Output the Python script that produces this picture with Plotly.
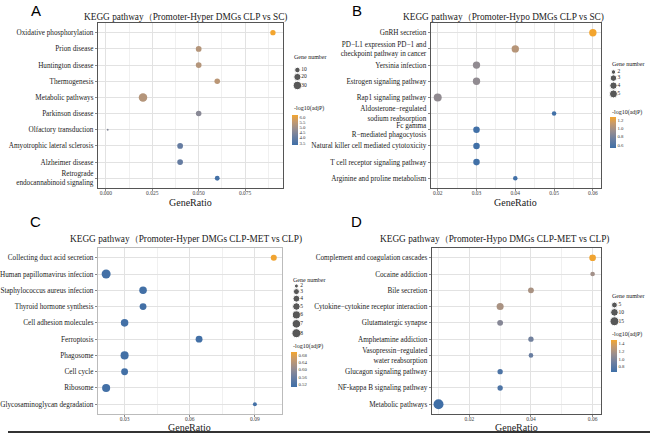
import numpy as np
import plotly.graph_objects as go

FIG_W, FIG_H = 650, 433
SERIF = "Liberation Serif, Times New Roman, serif"
SANS = "Liberation Sans, Arial, sans-serif"

# ---------------- data ----------------
A_terms = ["Oxidative phosphorylation", "Prion disease", "Huntington disease", "Thermogenesis",
           "Metabolic pathways", "Parkinson disease", "Olfactory transduction",
           "Amyotrophic lateral sclerosis", "Alzheimer disease",
           "Retrograde<br>endocannabinoid signaling"]
A_ratio = [0.09, 0.05, 0.05, 0.06, 0.02, 0.05, 0.001, 0.04, 0.04, 0.06]
A_count = [9, 11, 11, 10, 30, 10, 1, 11, 11, 7]
A_logp = [6.2, 5.3, 5.3, 5.4, 5.3, 4.6, 4.5, 4.0, 4.0, 3.4]
A_xticks = [0.0, 0.025, 0.05, 0.075]
A_xticktext = ["0.000", "0.025", "0.050", "0.075"]
A_size_keys = [10, 20, 30]
A_color_ticks = [3.5, 4.0, 4.5, 5.0, 5.5, 6.0]

B_terms = ["GnRH secretion", "PD−L1 expression PD−1 and<br>checkpoint pathway in cancer",
           "Yersinia infection", "Estrogen signaling pathway", "Rap1 signaling pathway",
           "Aldosterone−regulated<br>sodium reabsorption", "Fc gamma<br>R−mediated phagocytosis",
           "Natural killer cell mediated cytotoxicity", "T cell receptor signaling pathway",
           "Arginine and proline metabolism"]
B_ratio = [0.06, 0.04, 0.03, 0.03, 0.02, 0.05, 0.03, 0.03, 0.03, 0.04]
B_count = [4, 4, 4, 4, 5, 2, 3, 3, 3, 2]
B_logp = [1.27, 1.05, 0.9, 0.9, 0.9, 0.54, 0.54, 0.54, 0.54, 0.54]
B_xticks = [0.02, 0.03, 0.04, 0.05, 0.06]
B_xticktext = ["0.02", "0.03", "0.04", "0.05", "0.06"]
B_size_keys = [2, 3, 4, 5]
B_color_ticks = [0.6, 0.8, 1.0, 1.2]

C_terms = ["Collecting duct acid secretion", "Human papillomavirus infection",
           "Staphylococcus aureus infection", "Thyroid hormone synthesis",
           "Cell adhesion molecules", "Ferroptosis", "Phagosome", "Cell cycle",
           "Ribosome", "Glycosaminoglycan degradation"]
C_ratio = [0.0987, 0.0215, 0.0385, 0.0385, 0.03, 0.0643, 0.03, 0.03, 0.0215, 0.09]
C_count = [3, 8, 5, 4, 5, 4, 6, 4, 6, 2]
C_logp = [0.695, 0.51, 0.51, 0.51, 0.51, 0.51, 0.51, 0.51, 0.51, 0.51]
C_xticks = [0.03, 0.06, 0.09]
C_xticktext = ["0.03", "0.06", "0.09"]
C_size_keys = [2, 3, 4, 5, 6, 7, 8]
C_color_ticks = [0.52, 0.56, 0.60, 0.64, 0.68]

D_terms = ["Complement and coagulation cascades", "Cocaine addiction", "Bile secretion",
           "Cytokine−cytokine receptor interaction", "Glutamatergic synapse",
           "Amphetamine addiction", "Vasopressin−regulated<br>water reabsorption",
           "Glucagon signaling pathway", "NF-kappa B signaling pathway", "Metabolic pathways"]
D_ratio = [0.06, 0.06, 0.04, 0.03, 0.03, 0.04, 0.04, 0.03, 0.03, 0.01]
D_count = [7, 3, 5, 8, 5, 4, 3, 4, 4, 20]
D_logp = [1.47, 1.15, 1.18, 1.18, 1.02, 0.93, 0.88, 0.74, 0.74, 0.67]
D_xticks = [0.02, 0.04, 0.06]
D_xticktext = ["0.02", "0.04", "0.06"]
D_size_keys = [5, 10, 15]
D_color_ticks = [0.8, 1.0, 1.2, 1.4]

TITLES = ["KEGG pathway（Promoter-Hyper DMGs CLP vs SC)",
          "KEGG pathway（Promoter-Hypo DMGs CLP vs SC)",
          "KEGG pathway（Promoter-Hyper DMGs CLP-MET vs CLP)",
          "KEGG pathway（Promoter-Hypo DMGs CLP-MET vs CLP)"]

COLORSCALE = [[0.0, "#3F6FA7"], [0.3, "#6E7F9F"], [0.55, "#9A8E8E"],
              [0.8, "#C89A6A"], [1.0, "#F3A52E"]]

panels = [
    dict(letter="A", terms=A_terms, ratio=A_ratio, count=A_count, logp=A_logp,
         xticks=A_xticks, xticktext=A_xticktext, xrange=[-0.0043, 0.0952],
         size_keys=A_size_keys, size_lim=(1, 30), dpx=(1.8, 8.5),
         cticks=A_color_ticks, crange=(3.3, 6.2),
         box=(91, 23, 278, 188), title_xy=(180, 17), xlab_y=202, letter_xy=(28, 10),
         gn_xy=(288, 57), leg_x=293, leg_y0=70, cb=(288, 115, 145), cbt_xy=(288, 108),
         frame="#555555"),
    dict(letter="B", terms=B_terms, ratio=B_ratio, count=B_count, logp=B_logp,
         xticks=B_xticks, xticktext=B_xticktext, xrange=[0.0182, 0.062],
         size_keys=B_size_keys, size_lim=(2, 5), dpx=(4.5, 8.0),
         cticks=B_color_ticks, crange=(0.53, 1.27),
         box=(428, 23, 600, 188), title_xy=(502, 17), xlab_y=202, letter_xy=(353, 10),
         gn_xy=(609, 64), leg_x=613, leg_y0=72, cb=(610, 117, 148), cbt_xy=(609, 112),
         frame="#555555"),
    dict(letter="C", terms=C_terms, ratio=C_ratio, count=C_count, logp=C_logp,
         xticks=C_xticks, xticktext=C_xticktext, xrange=[0.0177, 0.1023],
         size_keys=C_size_keys, size_lim=(2, 8), dpx=(4.0, 9.0),
         cticks=C_color_ticks, crange=(0.505, 0.697),
         box=(91, 248, 277, 414), title_xy=(180, 239), xlab_y=427.5, letter_xy=(28, 221),
         gn_xy=(287, 280), leg_x=292, leg_y0=286, cb=(287, 352, 387), cbt_xy=(287, 346),
         frame="#BBBBBB"),
    dict(letter="D", terms=D_terms, ratio=D_ratio, count=D_count, logp=D_logp,
         xticks=D_xticks, xticktext=D_xticktext, xrange=[0.0078, 0.0626],
         size_keys=D_size_keys, size_lim=(2, 20), dpx=(3.0, 10.0),
         cticks=D_color_ticks, crange=(0.665, 1.48),
         box=(429, 248, 600, 414), title_xy=(493, 239), xlab_y=427.5, letter_xy=(353, 221),
         gn_xy=(610, 296), leg_x=614, leg_y0=305, cb=(611, 340, 372), cbt_xy=(610, 334),
         frame="#555555"),
]


def diam(v, lim, dpx):
    v = np.asarray(v, float)
    t = np.clip((v - lim[0]) / (lim[1] - lim[0]), 0, 1)
    return dpx[0] + (dpx[1] - dpx[0]) * np.sqrt(t)


def px(x):
    return x / FIG_W


def py(y):
    return 1 - y / FIG_H


fig = go.Figure()
layout = dict(width=FIG_W, height=FIG_H, margin=dict(l=0, r=0, t=0, b=0),
              paper_bgcolor="white", plot_bgcolor="white", showlegend=False)
annotations = []
shapes = []

for i, p in enumerate(panels):
    n = i + 1
    xa, ya = ("x" if n == 1 else f"x{n}"), ("y" if n == 1 else f"y{n}")
    xname, yname = ("xaxis" if n == 1 else f"xaxis{n}"), ("yaxis" if n == 1 else f"yaxis{n}")
    cax = "coloraxis" if n == 1 else f"coloraxis{n}"
    x0, y0, x1, y1 = p["box"]
    step = p["xticks"][1] - p["xticks"][0]
    layout[xname] = dict(domain=[px(x0), px(x1)], range=p["xrange"], anchor=ya,
                         tickmode="array", tickvals=p["xticks"], ticktext=p["xticktext"],
                         tickfont=dict(family=SERIF, size=5.5, color="#444"),
                         showgrid=True, gridcolor="#E2E2E2", gridwidth=0.8,
                         minor=dict(showgrid=True, gridcolor="#F0F0F0", gridwidth=0.5,
                                    tick0=p["xticks"][0], dtick=step / 2),
                         zeroline=False, showline=True, mirror=True,
                         linecolor=p["frame"], linewidth=1,
                         ticks="outside", ticklen=1.5, tickcolor="#888",
                         ticklabelstandoff=-2, fixedrange=True)
    nt = len(p["terms"])
    layout[yname] = dict(domain=[py(y1), py(y0)], anchor=xa, type="category",
                         categoryorder="array", categoryarray=p["terms"],
                         range=[nt - 0.4, -0.6],
                         tickfont=dict(family=SERIF, size=7.2, color="#222"),
                         showgrid=True, gridcolor="#E2E2E2", gridwidth=0.8,
                         zeroline=False, showline=True, mirror=True,
                         linecolor=p["frame"], linewidth=1,
                         ticks="outside", ticklen=2, tickcolor="#888", fixedrange=True)
    fig.add_trace(go.Scatter(
        x=p["ratio"], y=p["terms"], mode="markers", xaxis=xa, yaxis=ya,
        marker=dict(size=diam(p["count"], p["size_lim"], p["dpx"]), sizemode="diameter",
                    color=p["logp"], coloraxis=cax, line=dict(width=0), opacity=1),
        cliponaxis=False, hoverinfo="skip"))

    # colour bar
    cbx, cby0, cby1 = p["cb"]
    layout[cax] = dict(cmin=p["crange"][0], cmax=p["crange"][1], colorscale=COLORSCALE,
                       colorbar=dict(x=px(cbx), xanchor="left", y=py((cby0 + cby1) / 2),
                                     yanchor="middle", len=cby1 - cby0, lenmode="pixels",
                                     thickness=6, outlinewidth=0, xpad=0, ypad=0,
                                     tickmode="array", tickvals=p["cticks"],
                                     ticktext=[f"{v:.2f}" if n == 3 else f"{v:.1f}" for v in p["cticks"]],
                                     ticks="", tickfont=dict(family=SERIF, size=4.8, color="#333")))

    # size legend (helper axes)
    lxn, lyn = f"xaxis{n + 4}", f"yaxis{n + 4}"
    lxa, lya = f"x{n + 4}", f"y{n + 4}"
    d = diam(p["size_keys"], p["size_lim"], p["dpx"])
    ys = [0.0]
    for k in range(1, len(d)):
        ys.append(ys[-1] + (d[k - 1] + d[k]) / 2 + 0.6)
    boxh = 70
    layout[lxn] = dict(domain=[px(p["leg_x"] - 10), px(p["leg_x"] + 30)], range=[-10, 30],
                       anchor=lya, visible=False, fixedrange=True)
    layout[lyn] = dict(domain=[py(p["leg_y0"] - 10 + boxh), py(p["leg_y0"] - 10)],
                       range=[boxh - 10, -10], anchor=lxa, visible=False, fixedrange=True)
    fig.add_trace(go.Scatter(x=[0] * len(d), y=ys, mode="markers", xaxis=lxa, yaxis=lya,
                             marker=dict(size=d, sizemode="diameter", color="#111"),
                             cliponaxis=False, hoverinfo="skip"))
    fig.add_trace(go.Scatter(x=[4] * len(d), y=ys, mode="text", xaxis=lxa, yaxis=lya,
                             text=[str(k) for k in p["size_keys"]], textposition="middle right",
                             textfont=dict(family=SERIF, size=5.5, color="#222"),
                             cliponaxis=False, hoverinfo="skip"))

    # texts
    annotations += [
        dict(text=p["letter"], x=px(p["letter_xy"][0]), y=py(p["letter_xy"][1]), xref="paper",
             yref="paper", showarrow=False, font=dict(family=SANS, size=15, color="#000"),
             xanchor="center", yanchor="middle"),
        dict(text=TITLES[i], x=px(p["title_xy"][0]), y=py(p["title_xy"][1]), xref="paper",
             yref="paper", showarrow=False, font=dict(family=SERIF, size=9.3, color="#222"),
             xanchor="center", yanchor="middle"),
        dict(text="GeneRatio", x=px((x0 + x1) / 2), y=py(p["xlab_y"]), xref="paper",
             yref="paper", showarrow=False, font=dict(family=SERIF, size=10, color="#222"),
             xanchor="center", yanchor="middle"),
        dict(text="Gene number", x=px(p["gn_xy"][0]), y=py(p["gn_xy"][1]), xref="paper",
             yref="paper", showarrow=False, font=dict(family=SERIF, size=6, color="#222"),
             xanchor="left", yanchor="middle"),
        dict(text="-log10(adjP)", x=px(p["cbt_xy"][0]), y=py(p["cbt_xy"][1]), xref="paper",
             yref="paper", showarrow=False, font=dict(family=SERIF, size=6, color="#222"),
             xanchor="left", yanchor="middle"),
    ]

shapes.append(dict(type="line", xref="paper", yref="paper", x0=0, x1=1, y0=py(432), y1=py(432),
                   line=dict(color="#333", width=2)))
layout["annotations"] = annotations
layout["shapes"] = shapes
fig.update_layout(**layout)
fig.write_html("out.html", config={"displayModeBar": False},
               post_script="document.body.style.margin='0px'; document.body.style.overflow='hidden';")
